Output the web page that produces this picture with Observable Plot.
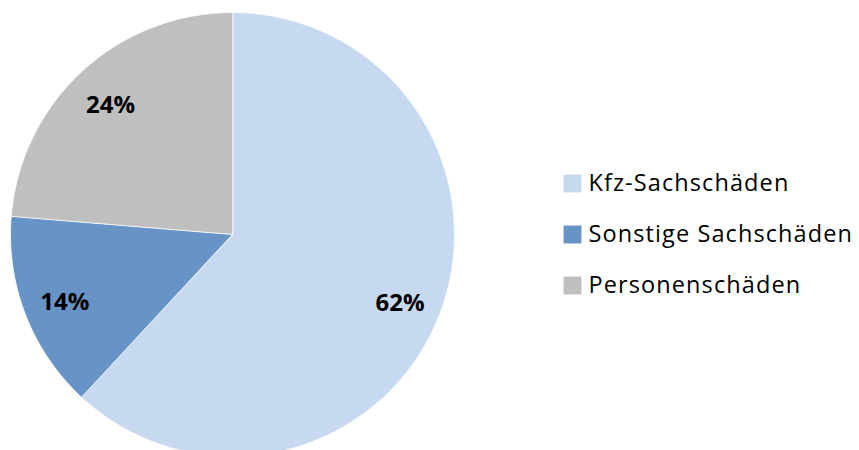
<!DOCTYPE html>
<html><head><meta charset="utf-8">
<script src="https://cdn.jsdelivr.net/npm/d3@7"></script>
<script src="https://cdn.jsdelivr.net/npm/@observablehq/plot@0.6"></script>
<style>body{margin:0;background:#fff} .legtext text{letter-spacing:1.1px}</style>
</head><body><div id="chart"></div>
<script>
const categories = ["Kfz-Sachschäden", "Sonstige Sachschäden", "Personenschäden"];
const shares = [61.9, 14.4, 23.7];
const labels = ["62%", "14%", "24%"];
const colors = ["#c6d9f1", "#6893c7", "#bfbfbf"];

const W = 859, H = 450;
const cx = 232, cy = 234, R = 222, rLabel = 180;
const pie = d3.pie().sort(null).value(d => d.value)(categories.map((c, i) => ({category: c, value: shares[i], label: labels[i]})));

const poly = [];
for (const s of pie) {
  poly.push({category: s.data.category, x: cx, y: cy});
  const n = Math.max(2, Math.ceil((s.endAngle - s.startAngle) * 80));
  for (let k = 0; k <= n; k++) {
    const a = s.startAngle + (s.endAngle - s.startAngle) * k / n;
    poly.push({category: s.data.category, x: cx + R * Math.sin(a), y: cy - R * Math.cos(a)});
  }
}
const lab = pie.map(s => {
  const a = (s.startAngle + s.endAngle) / 2;
  return {label: s.data.label, x: cx + rLabel * Math.sin(a), y: cy - rLabel * Math.cos(a)};
});
const legend = categories.map((c, i) => ({category: c, x: 572, y: 183 + i * 51}));

const chart = Plot.plot({
  width: W, height: H, margin: 0,
  style: {fontFamily: "'Open Sans', sans-serif", background: "#fff"},
  x: {domain: [0, W], range: [0, W], axis: null},
  y: {domain: [0, H], range: [0, H], axis: null},
  color: {domain: categories, range: colors},
  marks: [
    Plot.line(poly, {x: "x", y: "y", z: "category", fill: "category", stroke: "#fff", strokeWidth: 0.8, curve: "linear-closed"}),
    Plot.text(lab, {x: "x", y: "y", dy: 3, text: "label", fontSize: 24, fontWeight: "bold", fill: "#000"}),
    Plot.dot(legend, {x: "x", y: "y", symbol: "square", r: 10.1, fill: "category", stroke: null}),
    Plot.text(legend, {x: d => d.x + 16, y: "y", text: "category", textAnchor: "start", fontSize: 23.5, fill: "#000", className: "legtext"})
  ]
});
document.getElementById("chart").appendChild(chart);
</script></body></html>
